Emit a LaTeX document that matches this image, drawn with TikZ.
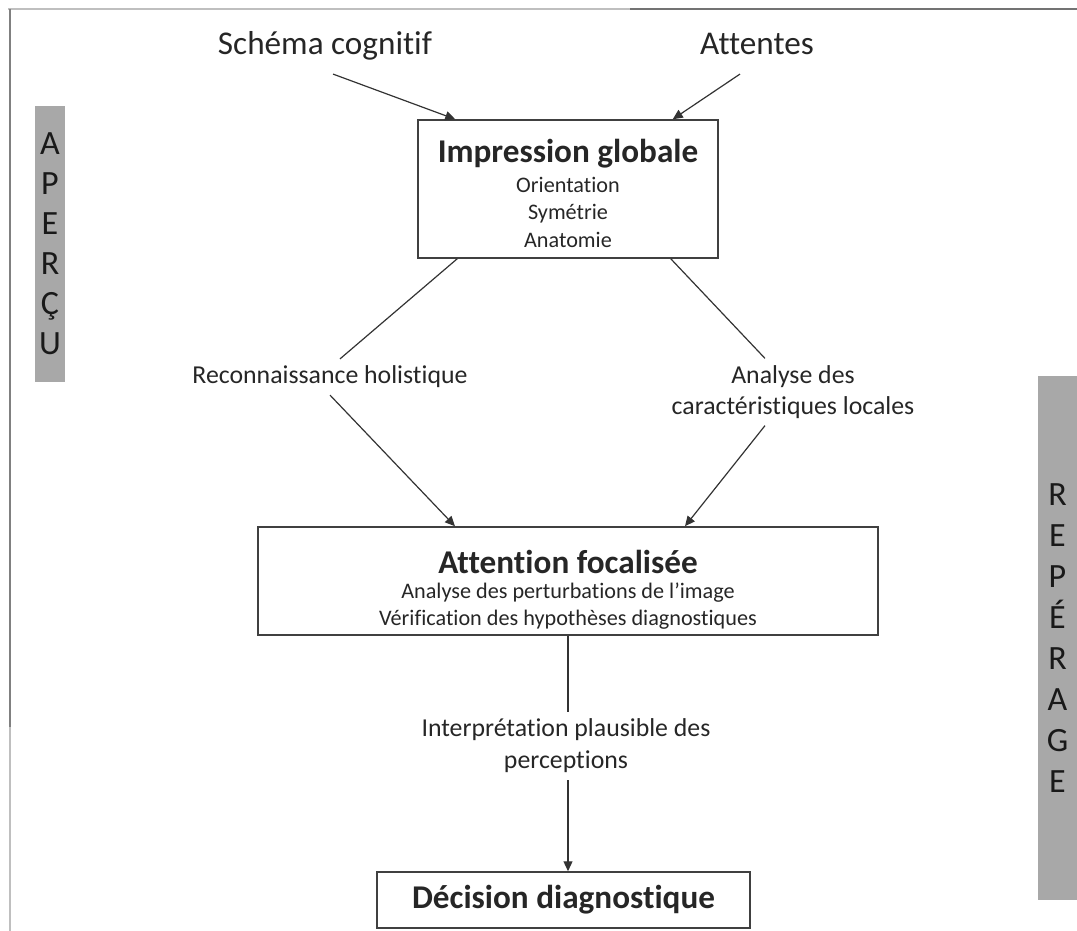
\documentclass[tikz,border=0pt]{standalone}
\usepackage{fontspec}
\setmainfont{Carlito}[Ligatures={NoCommon,NoContextual}]
\usetikzlibrary{arrows.meta,positioning}
\definecolor{barfill}{HTML}{A8A8A8}
\definecolor{inkgray}{HTML}{262626}

\begin{document}
\begin{tikzpicture}[x=0.5pt, y=-0.5pt,
  box/.style={draw=black!75, line width=0.75pt, inner sep=0pt},
  head/.style={font=\fontsize{16.6}{20}\selectfont, text=inkgray, text height=12pt, text depth=4pt},
  title/.style={font=\fontsize{16.6}{20}\selectfont\bfseries, text=inkgray},
  sub/.style={font=\fontsize{11.1}{13.75}\selectfont, text=inkgray, align=center, inner sep=0pt},
  lbl/.style={font=\fontsize{12.9}{15.5}\selectfont, text=inkgray, align=center},
  bar/.style={fill=barfill, inner sep=0pt, align=center, text=black!90},
  arr/.style={-{Triangle[length=5pt,width=4.5pt]}, line width=0.6pt, black!80},
  lin/.style={line width=0.6pt, black!80}
]
  \useasboundingbox (0,0) rectangle (1077,931);

  % frame of the scan
  \draw[black!25, line width=1pt] (8,9) -- (630,9);
  \draw[black!55, line width=1.2pt] (630,9) -- (1077,9);
  \draw[black!50, line width=1pt] (10,9) -- (10,727);
  \draw[black!25, line width=1pt] (10,727) -- (10,931);

  % side bars
  \node[bar, minimum width=15pt, minimum height=137.5pt, font=\fontsize{17}{20}\selectfont] (apercu) at (50,244) {A\\P\\E\\R\\Ç\\U};
  \node[bar, minimum width=19.5pt, minimum height=262pt, font=\fontsize{17}{20.5}\selectfont] (reperage) at (1057.5,638) {R\\E\\P\\É\\R\\A\\G\\E};

  % inputs
  \node[head] (schema) at (325,47) {Schéma cognitif};
  \node[head] (attentes) at (757,47) {Attentes};

  % first box
  \node[box, minimum width=150pt, minimum height=69pt] (imp) at (568,189) {};
  \node[sub, anchor=north] (imptxt) at (568,139) {{\fontsize{16.6}{20}\selectfont\bfseries Impression globale}\\[1pt]Orientation\\Symétrie\\Anatomie};

  % two routes
  \node[lbl] (holist) at (330,377) {Reconnaissance holistique};
  \node[lbl] (locales) at (793,392) {Analyse des\\caractéristiques locales};

  % second box
  \node[box, minimum width=310pt, minimum height=54pt] (att) at (568,581) {};
  \node[sub, font=\fontsize{11.1}{13.5}\selectfont, anchor=north] (atttxt) at (568,550) {{\fontsize{16.6}{20}\selectfont\bfseries Attention focalisée}\\[-1pt]Analyse des perturbations de l’image\\Vérification des hypothèses diagnostiques};

  \node[lbl, font=\fontsize{12.9}{16}\selectfont] (interp) at (566,746) {Interprétation plausible des\\perceptions};

  % last box
  \node[box, title, minimum width=186.5pt, minimum height=28pt] (dec) at (563.5,900) {Décision diagnostique};

  \draw[arr] ([xshift=4pt,yshift=-2pt]schema.south) -- ([xshift=19pt]imp.north west);
  \draw[arr] ([xshift=-8.5pt,yshift=-2pt]attentes.south) -- ([xshift=-23pt]imp.north east);
  \draw[lin] ([xshift=20pt]imp.south west) -- ([xshift=5pt]holist.north);
  \draw[lin] ([xshift=-24pt]imp.south east) -- ([xshift=-14pt]locales.north);
  \draw[arr] (holist.south) -- ([xshift=-56.5pt]att.north);
  \draw[arr] ([xshift=-14pt]locales.south) -- ([xshift=58.5pt]att.north);
  \draw[lin] (att.south) -- (att.south |- interp.north);
  \draw[arr] (att.south |- interp.south) -- (att.south |- dec.north);
\end{tikzpicture}
\end{document}
